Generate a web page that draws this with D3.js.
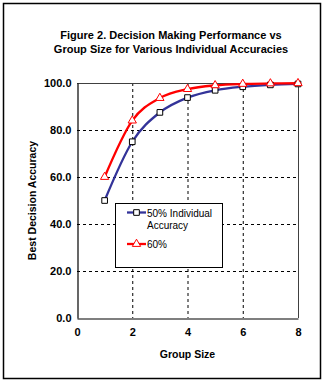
<!DOCTYPE html>
<html><head><meta charset="utf-8">
<script src="https://cdn.jsdelivr.net/npm/d3@7"></script>
<style>body{margin:0;background:#fff}svg{display:block}text{font-family:Arial,"Liberation Sans",sans-serif}</style>
</head><body><svg id="c" width="326" height="384"></svg>
<script>
const groupSizes = [1, 2, 3, 4, 5, 6, 7, 8];
const acc50 = [50.0, 75.0, 87.5, 93.8, 96.9, 98.4, 99.2, 99.6];
const acc60 = [60.0, 84.0, 93.6, 97.4, 99.0, 99.6, 99.8, 99.9];
const seriesNames = ["50% Individual Accuracy", "60%"];
const xTicks = [0, 2, 4, 6, 8];
const yTicks = [0, 20, 40, 60, 80, 100];
const titleLines = ["Figure 2. Decision Making Performance vs", "Group Size for Various Individual Accuracies"];
const xTitle = "Group Size";
const yTitle = "Best Decision Accuracy";

const svg = d3.select("#c");
const L = 77, R = 298, T = 83, B = 318;
const x = d3.scaleLinear().domain([0, 8]).range([L, R]);
const y = d3.scaleLinear().domain([0, 100]).range([B, T]);

svg.append("rect").attr("x", 3.5).attr("y", 3.5).attr("width", 317).attr("height", 375)
  .attr("fill", "#fff").attr("stroke", "#000").attr("stroke-width", 1.5);

// title
svg.append("g").selectAll("text").data(titleLines).join("text")
  .attr("x", 171).attr("y", (d, i) => 39 + i * 13.5)
  .attr("text-anchor", "middle").attr("font-weight", "bold").attr("font-size", 11)
  .text(d => d);

// gridlines
const g = svg.append("g");
g.selectAll(".hg").data(yTicks.filter(v => v > 0 && v < 100)).join("line")
  .attr("x1", L).attr("x2", R).attr("y1", d => y(d) + 0.5).attr("y2", d => y(d) + 0.5)
  .attr("stroke", "#000").attr("stroke-dasharray", "3,3");
g.selectAll(".vg").data(xTicks.filter(v => v > 0 && v < 8)).join("line")
  .attr("y1", T).attr("y2", B).attr("x1", d => x(d) + 0.5).attr("x2", d => x(d) + 0.5)
  .attr("stroke", "#000").attr("stroke-dasharray", "3,3");

// plot border
svg.append("line").attr("x1", L).attr("x2", R).attr("y1", T + 0.5).attr("y2", T + 0.5).attr("stroke", "#404040");
svg.append("line").attr("x1", R + 0.5).attr("x2", R + 0.5).attr("y1", T).attr("y2", B).attr("stroke", "#404040");

// axes
const xAxis = svg.append("g").attr("transform", `translate(0,${B + 0.5})`)
  .call(d3.axisBottom(x).tickValues(xTicks).tickSize(0).tickPadding(10).tickFormat(d3.format("d")));
const yAxis = svg.append("g").attr("transform", `translate(${L + 0.5},0)`)
  .call(d3.axisLeft(y).tickValues(yTicks).tickSize(0).tickPadding(6).tickFormat(d3.format(".1f")));
[xAxis, yAxis].forEach(a => {
  a.select(".domain").attr("stroke", "#000").attr("stroke-width", 1.2);
  a.selectAll("text").attr("font-family", "Arial,'Liberation Sans',sans-serif")
    .attr("font-weight", "bold").attr("font-size", 11).attr("fill", "#000");
});

svg.append("text").attr("x", x(4)).attr("y", 358).attr("text-anchor", "middle")
  .attr("font-weight", "bold").attr("font-size", 10.5).text(xTitle);
svg.append("text").attr("transform", `translate(36,${(T + B) / 2}) rotate(-90)`).attr("text-anchor", "middle")
  .attr("font-weight", "bold").attr("font-size", 10.5).text(yTitle);

// lines
const line = d3.line().x(d => x(d[0])).y(d => y(d[1])).curve(d3.curveCatmullRom.alpha(0));
const d50 = groupSizes.map((s, i) => [s, acc50[i]]);
const d60 = groupSizes.map((s, i) => [s, acc60[i]]);
const blue = "#333399", red = "#FF0000";
svg.append("path").datum(d50).attr("d", line).attr("fill", "none").attr("stroke", blue).attr("stroke-width", 2.3);
svg.append("path").datum(d60).attr("d", line).attr("fill", "none").attr("stroke", red).attr("stroke-width", 2.3);

const sq = d3.symbol().type(d3.symbolSquare).size(32);
const tri = d3.symbol().type(d3.symbolTriangle).size(30);
svg.append("g").selectAll("path").data(d50).join("path")
  .attr("transform", d => `translate(${x(d[0])},${y(d[1])})`).attr("d", sq)
  .attr("fill", "#fff").attr("stroke", "#000").attr("stroke-width", 1);
svg.append("g").selectAll("path").data(d60).join("path")
  .attr("transform", d => `translate(${x(d[0])},${y(d[1])})`).attr("d", tri)
  .attr("fill", "#fff").attr("stroke", red).attr("stroke-width", 1);

// legend
const lg = svg.append("g");
lg.append("rect").attr("x", 115.5).attr("y", 203.5).attr("width", 107).attr("height", 64)
  .attr("fill", "#fff").attr("stroke", "#000").attr("stroke-width", 1);
lg.append("line").attr("x1", 127).attr("x2", 146).attr("y1", 212.5).attr("y2", 212.5).attr("stroke", blue).attr("stroke-width", 2.3);
lg.append("path").attr("transform", "translate(136.5,212.5)").attr("d", sq).attr("fill", "#fff").attr("stroke", "#000");
lg.append("line").attr("x1", 127).attr("x2", 146).attr("y1", 244).attr("y2", 244).attr("stroke", red).attr("stroke-width", 2.3);
lg.append("path").attr("transform", "translate(136.5,244)").attr("d", tri).attr("fill", "#fff").attr("stroke", red);
const words0 = seriesNames[0].split(" ");
lg.append("text").attr("x", 147).attr("y", 217).attr("font-size", 10).text(words0.slice(0, 2).join(" "));
lg.append("text").attr("x", 147).attr("y", 229).attr("font-size", 10).text(words0.slice(2).join(" "));
lg.append("text").attr("x", 147).attr("y", 248).attr("font-size", 10).text(seriesNames[1]);
</script></body></html>
